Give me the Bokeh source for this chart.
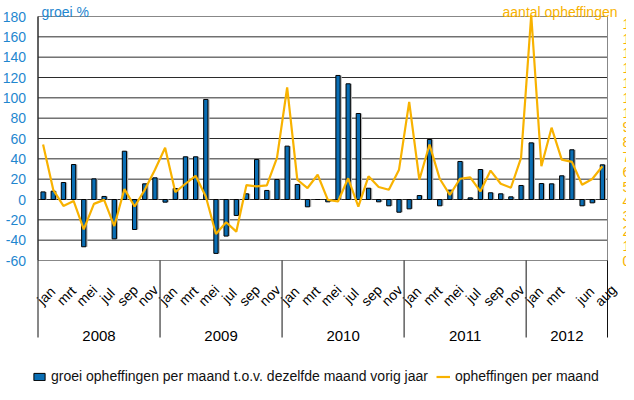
import numpy as np
from bokeh.plotting import figure
from bokeh.models import Range1d, ColumnDataSource, Legend, LegendItem
from bokeh.core.properties import value
from bokeh.transform import dodge
from bokeh.embed import file_html
from bokeh.resources import INLINE

# ---------------- data ----------------
years = ["2008", "2009", "2010", "2011", "2012"]
months = ["jan", "feb", "mrt", "apr", "mei", "jun", "jul", "aug", "sep", "okt", "nov", "dec"]
months_per_year = [12, 12, 12, 12, 8]
shown_months = {
    "2008": ["jan", "mrt", "mei", "jul", "sep", "nov"],
    "2009": ["jan", "mrt", "mei", "jul", "sep", "nov"],
    "2010": ["jan", "mrt", "mei", "jul", "sep", "nov"],
    "2011": ["jan", "mrt", "mei", "jul", "sep", "nov"],
    "2012": ["jan", "mrt", "jun", "aug"],
}
# groei opheffingen per maand t.o.v. dezelfde maand vorig jaar (%)
growth = [7.5, 8.2, 16.7, 34.4, -46.5, 20.3, 3.0, -38.7, 47.5, -29.5, 15.4, 21.3,
          -2.6, 10.8, 42.0, 42.0, 98.4, -53.0, -36.0, -15.7, 5.6, 39.3, 8.9, 19.7,
          52.5, 14.8, -7.2, 0.0, -2.3, 122.0, 113.8, 84.6, 11.1, -2.3, -6.2, -12.5,
          -9.2, 3.9, 59.0, -6.2, 9.2, 37.4, 1.6, 29.5, 6.6, 5.6, 2.6, 13.8,
          55.7, 15.7, 15.4, 23.3, 48.9, -6.2, -3.3, 34.1]
# opheffingen per maand
counts = [784, 478, 369, 403, 211, 383, 410, 233, 483, 365, 478, 614,
          762, 463, 519, 573, 433, 179, 259, 195, 510, 501, 508, 694,
          1170, 546, 490, 580, 410, 399, 556, 365, 569, 497, 478, 614,
          1073, 546, 784, 553, 444, 553, 562, 467, 608, 519, 492, 694,
          1660, 637, 898, 682, 667, 512, 551, 637]
left_ticks = list(range(-60, 181, 20))
left_min, left_max = -60, 180
right_ticks = list(range(0, 1601, 100))
right_min, right_max = 0, 1650

# ---------------- layout (canvas pixels) ----------------
W, H = 626, 384
PX_L, PX_R, PX_T, PX_B = 37.5, 607.0, 16.0, 260.0   # plot area

periods = [(y, m) for y, n in zip(years, months_per_year) for m in months[:n]]
n = len(periods)
kx = (PX_R - PX_L) / n
ky = (PX_B - PX_T) / (left_max - left_min)
kr = (PX_B - PX_T) / (right_max - right_min)

def xpx(px):
    return (px - PX_L) / kx

def ypx(py):
    return left_min + (PX_B - py) / ky

x_range = Range1d(xpx(0), xpx(W))
y_range = Range1d(ypx(H), ypx(0))
r_range = Range1d(right_min - (H - PX_B) / kr, right_max + PX_T / kr)

BLUE_TXT = "#1f87cf"
BAR = "#0a6eb4"
ORANGE = "#f8b200"
FONT = "Liberation Sans"

p = figure(width=W, height=H, output_backend="svg", toolbar_location=None,
           x_range=x_range, y_range=y_range,
           x_axis_location=None, y_axis_location=None,
           min_border=0, min_border_left=0, min_border_right=0,
           min_border_top=0, min_border_bottom=0)
p.extra_y_ranges = {"right": r_range}
p.outline_line_color = None
p.grid.visible = False
p.background_fill_color = "white"
p.border_fill_color = "white"

xc = np.arange(n) + 0.5
src = ColumnDataSource(dict(x=xc, growth=growth, counts=counts))

# gridlines
p.segment(x0=[0] * len(left_ticks), x1=[n] * len(left_ticks), y0=left_ticks,
          y1=left_ticks, line_color="#2b2b2b", line_width=1)
# plot-area border
p.quad(left=[0], right=[n], bottom=[left_min], top=[left_max], fill_color=None,
       line_color="#888888", line_width=1)
p.segment(x0=[0], x1=[0], y0=[left_min], y1=[left_max], line_color="black", line_width=1)

# year separators below the plot area
bounds = list(np.concatenate([[0], np.cumsum(months_per_year)]))
p.segment(x0=bounds, x1=bounds, y0=[left_min] * len(bounds),
          y1=[ypx(PX_B + 77)] * len(bounds), line_color="#111111", line_width=1)

# bars with shadow + line
p.vbar(x=dodge("x", 0.16, range=p.x_range), top="growth", bottom=0, width=0.42,
       source=src, fill_color="#b5b5b5", line_color=None)
bars = p.vbar(x="x", top="growth", bottom=0, width=0.42, source=src,
              fill_color=BAR, line_color="black", line_width=1)
line = p.line(x="x", y="counts", source=src, y_range_name="right",
              line_color=ORANGE, line_width=2.2)

# left axis labels
p.text(x=[xpx(PX_L - 12)] * len(left_ticks), y=left_ticks,
       text=[str(v) for v in left_ticks], text_align="right", text_baseline="middle",
       text_font=value(FONT), text_font_size=value("14px"), text_color=BLUE_TXT)
# right axis labels (cut by the window edge, as in the reference)
p.text(x=[xpx(PX_R + 15)] * len(right_ticks), y=right_ticks, y_range_name="right",
       text=[str(v) for v in right_ticks], text_align="left", text_baseline="middle",
       text_font=value(FONT), text_font_size=value("14px"), text_color=ORANGE)

# month labels
mlab_x, mlab_t = [], []
for i, (y, m) in enumerate(periods):
    if m in shown_months[y]:
        mlab_x.append(xc[i]); mlab_t.append(m)
p.text(x=mlab_x, y=[ypx(PX_B + 35)] * len(mlab_x), text=mlab_t, x_offset=3,
       angle=np.pi / 4, text_align="center", text_baseline="middle",
       text_font=value(FONT), text_font_size=value("14px"), text_color="black")
# year labels
year_x = [(bounds[k] + bounds[k + 1]) / 2 for k in range(len(years))]
p.text(x=year_x, y=[ypx(PX_B + 75)] * len(years), text=years,
       text_align="center", text_baseline="middle",
       text_font=value(FONT), text_font_size=value("15px"), text_color="black")

# axis titles
p.text(x=[xpx(41)], y=[ypx(11.5)], text=["groei %"], text_align="left",
       text_baseline="alphabetic", text_font=value(FONT),
       text_font_size=value("14px"), text_color=BLUE_TXT)
p.text(x=[xpx(617)], y=[ypx(11.5)], text=["aantal opheffingen"], text_align="right",
       text_baseline="alphabetic", text_font=value(FONT),
       text_font_size=value("14px"), text_color=ORANGE)

legend = Legend(items=[
    LegendItem(label="groei opheffingen per maand t.o.v. dezelfde maand vorig jaar",
               renderers=[bars]),
    LegendItem(label="opheffingen per maand", renderers=[line])],
    orientation="horizontal", location=(32, 0), padding=0, margin=0,
    spacing=8, label_standoff=5, glyph_width=14, glyph_height=9,
    label_height=12, label_text_font=FONT, label_text_font_size="14px",
    label_text_color="#111111", border_line_alpha=0, background_fill_alpha=0)
p.add_layout(legend, "center")

open("out.html", "w").write(file_html(p, INLINE))
